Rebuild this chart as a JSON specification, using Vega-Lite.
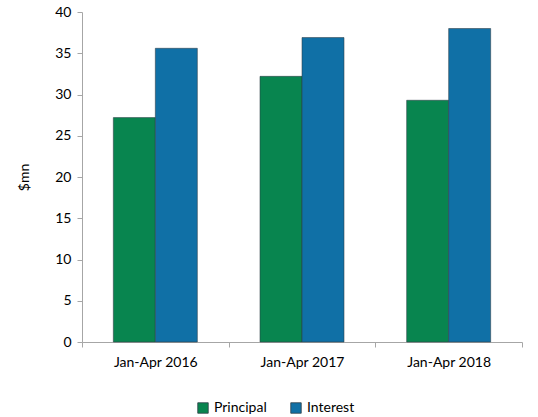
{
  "$schema": "https://vega.github.io/schema/vega-lite/v6.json",
  "width": 440,
  "height": 330,
  "autosize": {"type": "none"},
  "padding": {"left": 82, "top": 12, "right": 16, "bottom": 75},
  "background": "white",
  "config": {
    "font": "Lato",
    "view": {"stroke": null},
    "axis": {"labelFont": "Lato", "titleFont": "Lato", "labelColor": "#000", "titleColor": "#000"}
  },
  "data": {
    "values": [
      {"period": "Jan-Apr 2016", "type": "Principal", "value": 27.2},
      {"period": "Jan-Apr 2016", "type": "Interest", "value": 35.6},
      {"period": "Jan-Apr 2017", "type": "Principal", "value": 32.2},
      {"period": "Jan-Apr 2017", "type": "Interest", "value": 36.9},
      {"period": "Jan-Apr 2018", "type": "Principal", "value": 29.3},
      {"period": "Jan-Apr 2018", "type": "Interest", "value": 38.0}
    ]
  },
  "mark": {"type": "bar", "stroke": "#2f3d46", "strokeWidth": 0.8, "strokeOpacity": 0.7},
  "encoding": {
    "x": {
      "field": "period",
      "type": "nominal",
      "scale": {"paddingInner": 0, "paddingOuter": 0},
      "axis": {
        "title": null,
        "labelAngle": 0,
        "labelFontSize": 14,
        "labelPadding": 8,
        "tickBand": "extent",
        "tickSize": 5,
        "tickColor": "#a6a6a6",
        "domainColor": "#a6a6a6"
      }
    },
    "xOffset": {
      "field": "type",
      "type": "nominal",
      "sort": ["Principal", "Interest"],
      "scale": {"paddingOuter": 0.746, "paddingInner": 0}
    },
    "y": {
      "field": "value",
      "type": "quantitative",
      "scale": {"domain": [0, 40]},
      "axis": {
        "title": "$mn",
        "titleFontSize": 14,
        "titleFontWeight": "normal",
        "titlePadding": 23,
        "values": [0, 5, 10, 15, 20, 25, 30, 35, 40],
        "grid": false,
        "labelFontSize": 14,
        "labelPadding": 6,
        "tickSize": 5,
        "tickColor": "#a6a6a6",
        "domainColor": "#a6a6a6"
      }
    },
    "color": {
      "field": "type",
      "type": "nominal",
      "sort": ["Principal", "Interest"],
      "scale": {"domain": ["Principal", "Interest"], "range": ["#08854f", "#1070a6"]},
      "legend": {
        "title": null,
        "orient": "none",
        "direction": "horizontal",
        "legendX": 114,
        "legendY": 389,
        "symbolType": "square",
        "symbolSize": 110,
        "symbolStrokeColor": "#2f3d46",
        "symbolStrokeWidth": 0.8,
        "labelFontSize": 14,
        "labelFont": "Lato",
        "labelColor": "#000",
        "columnPadding": 22,
        "labelOffset": 4
      }
    }
  }
}
